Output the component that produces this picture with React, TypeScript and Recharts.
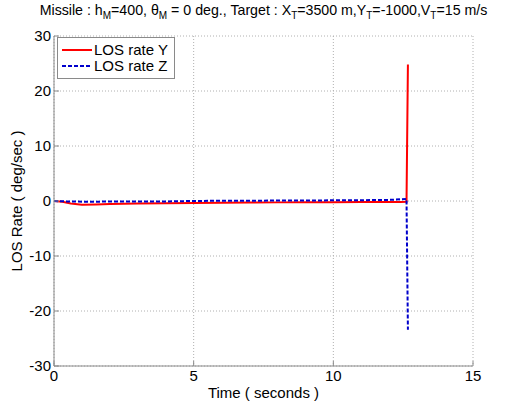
import { LineChart, Line, XAxis, YAxis, CartesianGrid, Legend } from "recharts";

const time = [0, 0.3, 0.6, 1.0, 1.5, 2.0, 3.0, 4.0, 5.0, 6.0, 7.0, 8.0, 9.0, 10.0, 11.0, 12.0, 12.4, 12.62, 12.67];
const losRateY = [0, -0.15, -0.45, -0.7, -0.65, -0.55, -0.45, -0.4, -0.35, -0.3, -0.28, -0.25, -0.23, -0.22, -0.2, -0.2, -0.18, -0.15, 24.8];
const losRateZ = [0, -0.05, -0.1, -0.12, -0.12, -0.1, -0.1, -0.08, 0, 0.05, 0.05, 0.08, 0.1, 0.12, 0.15, 0.2, 0.3, 0.35, -23.4];
const xTicks = [0, 5, 10, 15];
const yTicks = [-30, -20, -10, 0, 10, 20, 30];

const data = time.map((t, i) => ({ t, y: losRateY[i], z: losRateZ[i] }));

const FONT = "'Liberation Sans', Arial, sans-serif";
const BOX = "#8a8a8a";

const BottomTick = (props: any) => {
  const { x, y, payload } = props;
  return (
    <g>
      <line x1={x} y1={y} x2={x} y2={y - 5} stroke={BOX} />
      <text x={x} y={y + 15} textAnchor="middle" fontSize={15} fill="#000" fontFamily={FONT}>
        {payload.value}
      </text>
    </g>
  );
};

const LeftTick = (props: any) => {
  const { x, y, payload } = props;
  return (
    <g>
      <line x1={x} y1={y} x2={x + 5} y2={y} stroke={BOX} />
      <text x={x - 3} y={y + 5} textAnchor="end" fontSize={15} fill="#000" fontFamily={FONT}>
        {payload.value}
      </text>
    </g>
  );
};

const TopTick = (props: any) => {
  const { x, y } = props;
  return <line x1={x} y1={y} x2={x} y2={y + 5} stroke={BOX} />;
};

const RightTick = (props: any) => {
  const { x, y } = props;
  return <line x1={x} y1={y} x2={x - 5} y2={y} stroke={BOX} />;
};

const LegendBox = () => (
  <div
    style={{
      border: `1px solid ${BOX}`,
      background: "#fff",
      padding: "4px 6px 4px 4px",
      fontFamily: FONT,
      fontSize: 15,
      lineHeight: "16px",
      whiteSpace: "nowrap",
    }}
  >
    <div style={{ display: "flex", alignItems: "center" }}>
      <svg width={30} height={10}>
        <line x1={0} y1={5} x2={30} y2={5} stroke="#ff0000" strokeWidth={2} />
      </svg>
      <span style={{ marginLeft: 2 }}>LOS rate Y</span>
    </div>
    <div style={{ display: "flex", alignItems: "center" }}>
      <svg width={30} height={10}>
        <line x1={0} y1={5} x2={30} y2={5} stroke="#0000cc" strokeWidth={2} strokeDasharray="4 2" />
      </svg>
      <span style={{ marginLeft: 2 }}>LOS rate Z</span>
    </div>
  </div>
);

export default function App() {
  return (
    <div style={{ position: "absolute", left: 0, top: 0, width: 507, height: 405, background: "#fff" }}>
      <div
        style={{
          position: "absolute",
          left: 10,
          top: 2,
          width: 507,
          textAlign: "center",
          fontFamily: FONT,
          fontSize: 14.2,
          whiteSpace: "nowrap",
        }}
      >
        Missile : h<sub style={{ fontSize: 10 }}>M</sub>=400, θ<sub style={{ fontSize: 10 }}>M</sub> = 0 deg., Target : X
        <sub style={{ fontSize: 10 }}>T</sub>=3500 m,Y<sub style={{ fontSize: 10 }}>T</sub>=-1000,V
        <sub style={{ fontSize: 10 }}>T</sub>=15 m/s
      </div>
      <LineChart width={507} height={405} data={data} margin={{ top: 36, right: 34, left: 0, bottom: 0 }}>
        <CartesianGrid stroke="#b0b0b0" strokeDasharray="1 2" />
        <XAxis
          dataKey="t"
          type="number"
          domain={[0, 15]}
          ticks={xTicks}
          allowDataOverflow
          height={39}
          tickSize={0}
          tickMargin={0}
          tickLine={false}
          stroke={BOX}
          tick={<BottomTick />}
          label={{ value: "Time ( seconds )", position: "insideBottom", offset: 7, fontSize: 15, fill: "#000", fontFamily: FONT }}
        />
        <XAxis
          xAxisId="top"
          orientation="top"
          dataKey="t"
          type="number"
          domain={[0, 15]}
          ticks={xTicks}
          allowDataOverflow
          height={0}
          tickSize={0}
          tickMargin={0}
          tickLine={false}
          stroke={BOX}
          tick={<TopTick />}
        />
        <YAxis
          type="number"
          domain={[-30, 30]}
          ticks={yTicks}
          allowDataOverflow
          width={54}
          tickSize={0}
          tickMargin={0}
          tickLine={false}
          stroke={BOX}
          tick={<LeftTick />}
          label={{
            value: "LOS Rate ( deg/sec )",
            angle: -90,
            position: "insideLeft",
            offset: 17,
            style: { textAnchor: "middle" },
            fontSize: 15,
            fill: "#000",
            fontFamily: FONT,
          }}
        />
        <YAxis
          yAxisId="right"
          orientation="right"
          type="number"
          domain={[-30, 30]}
          ticks={yTicks}
          allowDataOverflow
          width={0}
          tickSize={0}
          tickMargin={0}
          tickLine={false}
          stroke={BOX}
          tick={<RightTick />}
        />
        <Legend
          layout="vertical"
          align="center"
          verticalAlign="middle"
          content={<LegendBox />}
          wrapperStyle={{ left: 57, top: 37, width: "auto" }}
        />
        <Line dataKey="y" name="LOS rate Y" stroke="#ff0000" strokeWidth={2} dot={false} isAnimationActive={false} />
        <Line
          dataKey="z"
          name="LOS rate Z"
          stroke="#0000cc"
          strokeWidth={2}
          strokeDasharray="4 2"
          dot={false}
          isAnimationActive={false}
        />
      </LineChart>
    </div>
  );
}
